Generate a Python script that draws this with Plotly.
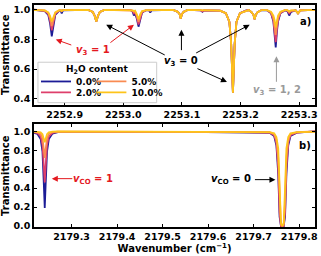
import plotly.graph_objects as go

# ---------------- data ----------------
series_names = ["0.0%", "2.0%", "5.0%", "10.0%"]
series_colors = ["#1c1c96", "#de3f6b", "#f98b52", "#fdc41a"]

# panel a) wavenumber grid (cm-1)
wn_a = [
    2252.845, 2252.866, 2252.872, 2252.875, 2252.878, 2252.881, 2252.884, 2252.890,
    2252.893, 2252.895, 2252.897,
    2252.940, 2252.948, 2252.951, 2252.954, 2252.957, 2252.960, 2252.968,
    2253.012, 2253.016, 2253.018, 2253.020, 2253.023, 2253.026, 2253.029, 2253.032, 2253.040,
    2253.044, 2253.046, 2253.048,
    2253.085, 2253.093, 2253.096, 2253.098, 2253.100, 2253.103, 2253.110,
    2253.132, 2253.135, 2253.138,
    2253.165, 2253.175, 2253.181, 2253.184, 2253.187, 2253.190, 2253.193, 2253.199, 2253.209,
    2253.214, 2253.219, 2253.222, 2253.224, 2253.226, 2253.229, 2253.236,
    2253.245, 2253.252, 2253.256, 2253.258, 2253.260, 2253.262, 2253.264, 2253.268, 2253.276,
    2253.280, 2253.283, 2253.286,
    2253.294, 2253.298, 2253.302, 2253.330,
]

# shared v3 = 0 dips (same for all H2O contents)
dip3 = [0.998, 0.984, 0.960, 0.920, 0.960, 0.984, 0.998]
dip6 = [0.998, 0.985, 0.970, 0.940, 0.970, 0.985, 0.998]
dip8 = [0.993, 0.976, 0.917, 0.770, 0.440, 0.770, 0.917, 0.976, 0.993]
dip9 = [0.997, 0.982, 0.965, 0.935, 0.965, 0.982, 0.997]
dip12 = [0.995, 0.975, 0.995, 0.998]

tr_a_00 = ([1.000, 0.990, 0.965, 0.910, 0.820, 0.910, 0.965, 0.990]
           + [0.995, 0.975, 0.995] + dip3
           + [0.998, 0.985, 0.960, 0.975, 0.940, 0.885, 0.940, 0.980, 0.997]
           + [0.995, 0.980, 0.995] + dip6
           + [0.995, 0.985, 0.995] + dip8 + dip9
           + [0.995, 0.975, 0.920, 0.850, 0.745, 0.850, 0.920, 0.975, 0.995]
           + [0.990, 0.960, 0.985] + dip12)
tr_a_02 = ([1.000, 0.992, 0.972, 0.930, 0.860, 0.930, 0.972, 0.992]
           + [0.997, 0.990, 0.997] + dip3
           + [0.998, 0.990, 0.975, 0.983, 0.950, 0.900, 0.950, 0.983, 0.997]
           + [0.997, 0.992, 0.997] + dip6
           + [0.995, 0.988, 0.995] + dip8 + dip9
           + [0.996, 0.978, 0.930, 0.870, 0.780, 0.870, 0.930, 0.978, 0.996]
           + [0.993, 0.975, 0.990] + dip12)
tr_a_05 = ([1.000, 0.994, 0.978, 0.945, 0.890, 0.945, 0.978, 0.994]
           + [0.997, 0.990, 0.997] + dip3
           + [0.998, 0.993, 0.985, 0.990, 0.960, 0.918, 0.960, 0.988, 0.998]
           + [0.997, 0.992, 0.997] + dip6
           + [0.997, 0.994, 0.997] + dip8 + dip9
           + [0.997, 0.982, 0.945, 0.900, 0.830, 0.900, 0.945, 0.982, 0.997]
           + [0.995, 0.983, 0.993] + dip12)
tr_a_10 = ([0.997, 0.995, 0.982, 0.958, 0.920, 0.958, 0.982, 0.995]
           + [0.997, 0.990, 0.997] + dip3
           + [0.997, 0.995, 0.990, 0.993, 0.970, 0.935, 0.970, 0.990, 0.997]
           + [0.997, 0.992, 0.997] + dip6
           + [0.997, 0.994, 0.997] + dip8 + dip9
           + [0.997, 0.986, 0.960, 0.930, 0.880, 0.930, 0.960, 0.986, 0.997]
           + [0.996, 0.988, 0.995] + dip12)

# panel b) wavenumber grid (cm-1)
wn_b = [
    2179.215, 2179.225, 2179.232, 2179.236, 2179.239, 2179.241, 2179.243, 2179.246,
    2179.250, 2179.258, 2179.270,
    2179.350, 2179.450, 2179.550, 2179.650,
    2179.735, 2179.745, 2179.750, 2179.754, 2179.757, 2179.760, 2179.763, 2179.766,
    2179.769, 2179.772, 2179.776, 2179.781, 2179.795, 2179.840,
]
tr_b_00 = ([0.989, 0.972, 0.919, 0.785, 0.440, 0.190, 0.440, 0.785, 0.919, 0.976, 0.991]
           + [0.995, 0.993, 0.995, 0.993]
           + [0.985, 0.950, 0.850, 0.550, 0.100, 0.0, 0.0, 0.0, 0.100, 0.550, 0.850, 0.950, 0.985, 1.000])
tr_b_02 = ([0.993, 0.982, 0.946, 0.857, 0.627, 0.460, 0.627, 0.857, 0.946, 0.984, 0.994]
           + [0.994, 0.995, 0.993, 0.995]
           + [0.987, 0.960, 0.880, 0.620, 0.150, 0.0, 0.0, 0.0, 0.150, 0.620, 0.880, 0.960, 0.987, 1.000])
tr_b_05 = ([0.996, 0.990, 0.972, 0.926, 0.807, 0.720, 0.807, 0.926, 0.972, 0.992, 0.997]
           + [0.997, 0.997, 0.997, 0.997]
           + [0.990, 0.970, 0.910, 0.720, 0.250, 0.010, 0.0, 0.010, 0.250, 0.720, 0.910, 0.970, 0.990, 1.000])
tr_b_10 = ([0.998, 0.996, 0.988, 0.970, 0.920, 0.885, 0.920, 0.970, 0.988, 0.997, 0.999]
           + [0.997, 0.997, 0.997, 0.997]
           + [0.992, 0.978, 0.940, 0.820, 0.400, 0.030, 0.0, 0.030, 0.400, 0.820, 0.940, 0.978, 0.992, 0.995])

series_a = [tr_a_00, tr_a_02, tr_a_05, tr_a_10]
series_b = [tr_b_00, tr_b_02, tr_b_05, tr_b_10]

xticks_a = [2252.9, 2253.0, 2253.1, 2253.2, 2253.3]
xticks_b = [2179.3, 2179.4, 2179.5, 2179.6, 2179.7, 2179.8]
yticks_a = [0.4, 0.6, 0.8, 1.0]
yticks_b = [0.0, 0.2, 0.4, 0.6, 0.8, 1.0]

# ---------------- figure ----------------
W, H = 321, 256
L, R, T, B = 34, 318, 4, 229
A_TOP, A_BOT, B_TOP, B_BOT = 4, 105, 125, 229

# 2-column legend: one legend per entry, (left px of entry, row centre px)
legend_ids = ["legend", "legend2", "legend3", "legend4"]
legend_pos = [(36, 81.5), (36, 92.5), (92, 81.5), (92, 92.5)]

fig = go.Figure()
for name, col, ya, yb, lg in zip(series_names, series_colors, series_a, series_b, legend_ids):
    fig.add_trace(go.Scatter(x=wn_a, y=ya, mode="lines", name=name,
                             line=dict(color=col, width=1.8), legend=lg,
                             xaxis="x", yaxis="y"))
    fig.add_trace(go.Scatter(x=wn_b, y=yb, mode="lines", name=name, showlegend=False,
                             line=dict(color=col, width=1.8),
                             xaxis="x2", yaxis="y2"))

axis_common = dict(showline=True, linecolor="black", linewidth=1.5, mirror="ticks",
                   ticks="inside", ticklen=3, tickwidth=1, tickcolor="black",
                   showgrid=False, zeroline=False)

legend_common = dict(orientation="h", xanchor="left", yanchor="middle",
                     font=dict(size=9), bgcolor="rgba(0,0,0,0)", borderwidth=0,
                     itemwidth=30, tracegroupgap=0)

legends = {}
for lg, (px, py) in zip(legend_ids, legend_pos):
    legends[lg] = dict(x=(px - L) / (R - L), y=(B - py) / (B - T), **legend_common)

fig.update_layout(
    width=W, height=H,
    margin=dict(l=L, r=W - R, t=T, b=H - B),
    paper_bgcolor="white", plot_bgcolor="white",
    font=dict(family="DejaVu Sans", size=10, color="black", weight="bold"),
    xaxis=dict(domain=[0, 1], anchor="y", range=[2252.8477, 2253.327],
               tickvals=xticks_a, ticktext=[f"{v:.1f}" for v in xticks_a],
               tickfont=dict(size=9.5), **axis_common),
    yaxis=dict(domain=[(B - A_BOT) / (B - T), 1], anchor="x", range=[0.36, 1.031],
               tickvals=yticks_a, ticktext=[f"{v:.1f}" for v in yticks_a],
               tickfont=dict(size=9.5),
               title=dict(text="Transmittance", font=dict(size=10), standoff=4),
               **axis_common),
    xaxis2=dict(domain=[0, 1], anchor="y2", range=[2179.2174, 2179.8348],
                tickvals=xticks_b, ticktext=[f"{v:.1f}" for v in xticks_b],
                tickfont=dict(size=9.5),
                title=dict(text="Wavenumber (cm<sup>−1</sup>)", font=dict(size=10), standoff=4),
                **axis_common),
    yaxis2=dict(domain=[0, (B - B_TOP) / (B - T)], anchor="x2", range=[-0.01, 1.073],
                tickvals=yticks_b, ticktext=[f"{v:.1f}" for v in yticks_b],
                tickfont=dict(size=9.5),
                title=dict(text="Transmittance", font=dict(size=10), standoff=4),
                **axis_common),
    showlegend=True,
    **legends,
)

# legend frame (drawn above the traces, below the legend entries)
fig.add_shape(type="rect", xref="paper", yref="paper",
              x0=(38 - L) / (R - L), x1=(158 - L) / (R - L),
              y0=(B - 103) / (B - T), y1=(B - 62) / (B - T),
              line=dict(color="#cccccc", width=1), fillcolor="rgba(255,255,255,0.85)",
              layer="above")


def pa(px, py):
    return (px - L) / (R - L), (A_BOT - py) / (A_BOT - A_TOP)


def pb(px, py):
    return (px - L) / (R - L), (B_BOT - py) / (B_BOT - B_TOP)


RED = "#e4191f"
GRAY = "#9a9a9a"


def text(panel, px, py, s, color="black", size=10):
    f = pa if panel == "a" else pb
    x, y = f(px, py)
    sfx = "" if panel == "a" else "2"
    fig.add_annotation(x=x, y=y, xref=f"x{sfx} domain", yref=f"y{sfx} domain", text=s,
                       showarrow=False, font=dict(color=color, size=size),
                       xanchor="center", yanchor="middle")


def arrow(panel, tail, tip, color="black"):
    f = pa if panel == "a" else pb
    x, y = f(*tip)
    sfx = "" if panel == "a" else "2"
    fig.add_annotation(x=x, y=y, xref=f"x{sfx} domain", yref=f"y{sfx} domain", text="",
                       showarrow=True, ax=tail[0] - tip[0], ay=tail[1] - tip[1],
                       arrowcolor=color, arrowwidth=1, arrowhead=2, arrowsize=1.2,
                       standoff=0, startstandoff=0)


# legend title
text("a", 98, 69, "H<sub>2</sub>O content", size=9)

# panel a annotations
text("a", 94, 50, "<i>v</i><sub>3</sub> = 1", RED)
arrow("a", (73, 45), (56, 39), RED)
arrow("a", (110, 43), (135, 24), RED)
text("a", 183, 61, "<i>v</i><sub>3</sub> = 0")
arrow("a", (167, 55), (107, 24))
arrow("a", (183, 51), (183, 29))
arrow("a", (197, 53), (252, 24))
arrow("a", (198, 68), (229, 82))
text("a", 280, 91, "<i>v</i><sub>3</sub> = 1, 2", GRAY)
arrow("a", (279, 83), (279, 56), GRAY)
text("a", 308, 21, "a)")

# panel b annotations
text("b", 94, 181, "<i>v</i><sub>CO</sub> = 1", RED)
arrow("b", (74, 180), (52, 180), RED)
text("b", 233, 181, "<i>v</i><sub>CO</sub> = 0")
arrow("b", (256, 181), (278, 181))
text("b", 308, 146, "b)")

fig.write_html("out.html", config={"displayModeBar": False},
               post_script="document.body.style.margin='0';document.body.style.overflow='hidden';")
